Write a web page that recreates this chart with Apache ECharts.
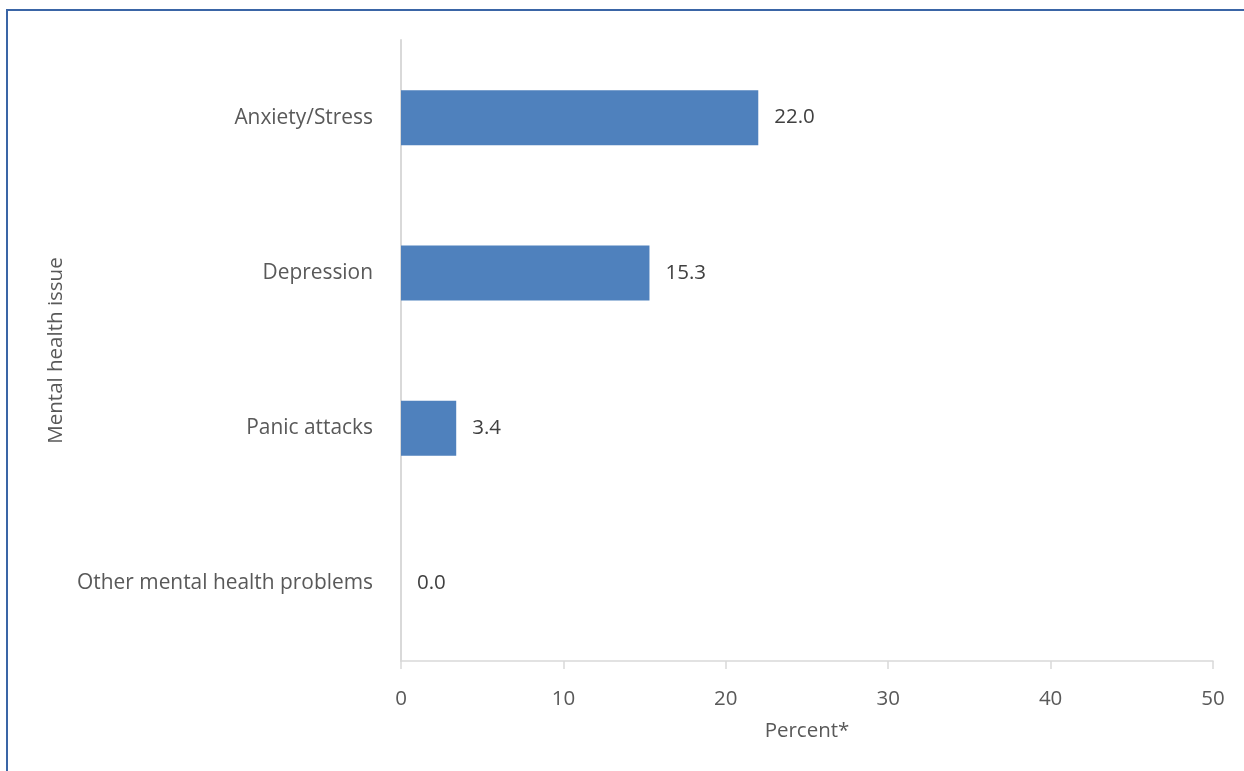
<!DOCTYPE html>
<html>
<head>
<meta charset="utf-8">
<script src="https://cdn.jsdelivr.net/npm/echarts@6/dist/echarts.min.js"></script>
<style>
html,body{margin:0;padding:0;background:#fff;}
#chart{width:1244px;height:771px;}
</style>
</head>
<body>
<div id="chart"></div>
<script>
const categories = ["Anxiety/Stress", "Depression", "Panic attacks", "Other mental health problems"];
const values = [22.0, 15.3, 3.4, 0.0];
const xTicks = {min: 0, max: 50, interval: 10};
const xAxisName = "Percent*";
const yAxisName = "Mental health issue";

const chart = echarts.init(document.getElementById('chart'), null, {renderer: 'canvas'});
const font = "'Open Sans', sans-serif";
const fs = 20.5;
chart.setOption({
  animation: false,
  backgroundColor: '#ffffff',
  graphic: [{
    type: 'rect',
    shape: {x: 7, y: 10, width: 1260, height: 800},
    style: {fill: 'none', stroke: '#3a65a6', lineWidth: 2},
    silent: true
  }],
  grid: {left: 401, right: 31, top: 40, bottom: 110, containLabel: false},
  xAxis: {
    type: 'value',
    min: xTicks.min, max: xTicks.max, interval: xTicks.interval,
    name: xAxisName,
    nameLocation: 'middle',
    nameGap: 60,
    nameTextStyle: {color: '#595959', fontSize: fs, fontFamily: font},
    axisLine: {show: true, lineStyle: {color: '#d9d9d9', width: 1.5}},
    axisTick: {show: true, length: 8, lineStyle: {color: '#d9d9d9', width: 1.5}},
    axisLabel: {color: '#595959', fontSize: fs, fontFamily: font, margin: 28},
    splitLine: {show: false}
  },
  yAxis: {
    type: 'category',
    inverse: true,
    data: categories,
    name: yAxisName,
    nameLocation: 'middle',
    nameGap: 333,
    nameRotate: 90,
    nameTextStyle: {color: '#595959', fontSize: fs, fontFamily: font},
    axisLine: {show: true, lineStyle: {color: '#d9d9d9', width: 2}},
    axisTick: {show: false},
    axisLabel: {color: '#595959', fontSize: 20.9, fontFamily: font, margin: 28, padding: [3, 0, 0, 0]}
  },
  series: [{
    type: 'bar',
    data: values,
    barWidth: 55,
    itemStyle: {color: '#4f81bd'},
    label: {
      show: true,
      position: 'right',
      distance: 16,
      color: '#404040',
      fontSize: fs,
      fontFamily: font,
      padding: [3, 0, 0, 0],
      formatter: p => p.value.toFixed(1)
    }
  }]
});
</script>
</body>
</html>
